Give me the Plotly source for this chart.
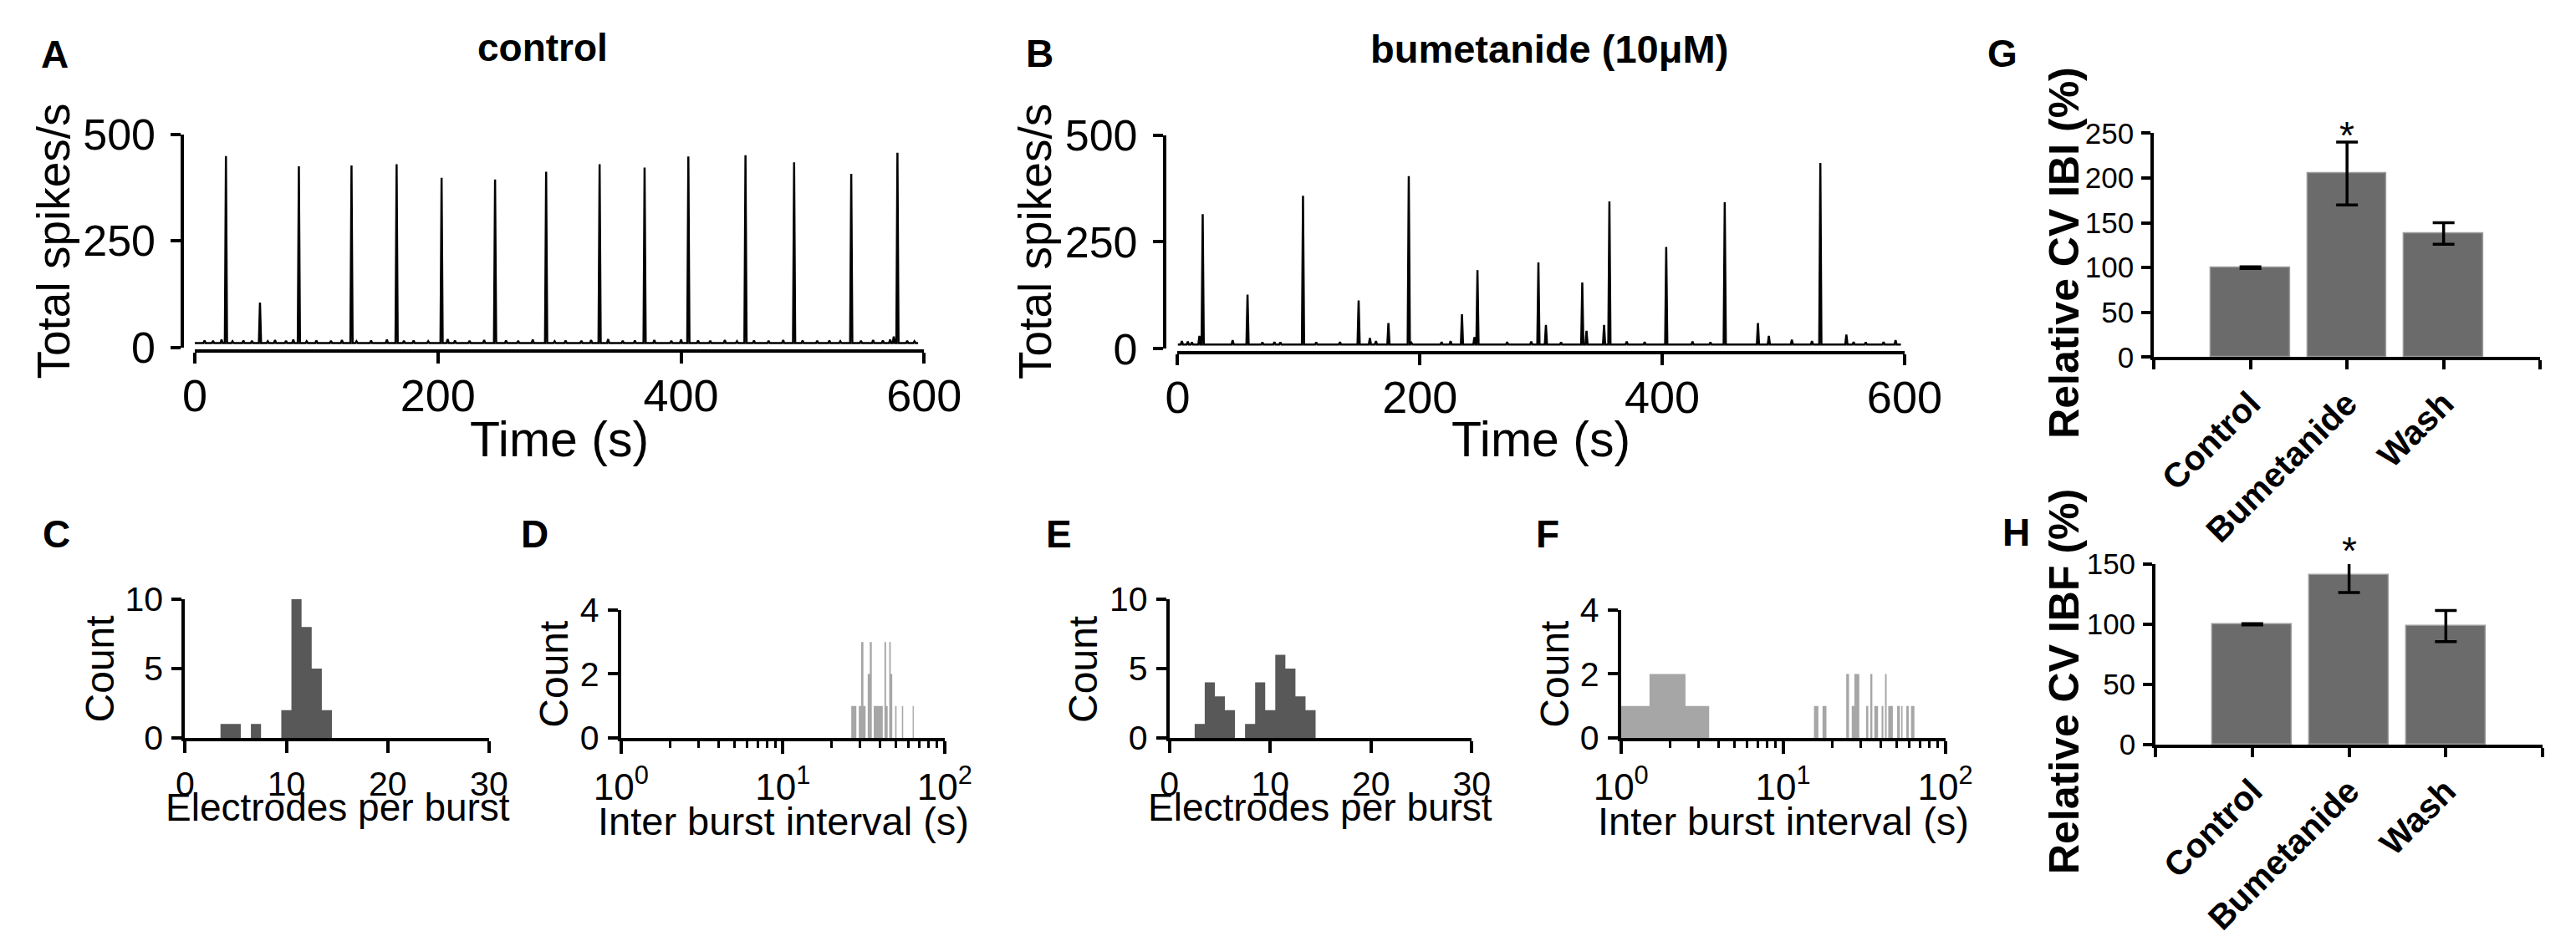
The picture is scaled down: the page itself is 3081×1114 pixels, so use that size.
import plotly.graph_objects as go

W, H = 3081, 1114
FONT = "Liberation Sans, Arial, Helvetica, sans-serif"

# ---- A: control, total spikes/s over time ----
ctrl_peak_t = [25.6, 53.6, 85.6, 128.9, 166, 203, 247, 289, 333, 370, 406, 453, 493, 540, 578]
ctrl_peak_v = [449, 105, 425, 427, 430, 398, 394, 412, 430, 422, 448, 451, 434, 407, 457]
ctrl_bump_t = [8, 15, 22, 31, 40, 47, 60, 66, 75, 81, 92, 100, 112, 121, 133, 145, 158, 172,
               180, 192, 208, 214, 226, 238, 256, 266, 278, 296, 305, 318, 326, 340, 352, 362,
               378, 392, 400, 414, 424, 436, 446, 460, 472, 484, 500, 512, 522, 531, 548, 558,
               566, 572, 575, 586, 592]
ctrl_bump_v = [16, 15, 18, 14, 16, 15, 14, 17, 15, 18, 14, 16, 15, 17, 14, 16, 18, 15,
               16, 14, 19, 16, 15, 17, 16, 15, 18, 14, 16, 15, 17, 19, 15, 16,
               17, 15, 18, 16, 15, 17, 14, 16, 15, 17, 16, 15, 16, 14, 15, 17,
               16, 18, 25, 15, 14]
ctrl_base = 10

# ---- B: bumetanide (10 uM) ----
bum_peak_t = [20.7, 57.7, 103.5, 149.4, 174, 190.8, 234.7, 247.5, 297.8, 304, 334, 337.5,
              352, 356.4, 403.3, 451.6, 479, 488, 507, 530.5, 552]
bum_peak_v = [315, 127, 358, 113, 60, 404, 81, 184, 202, 56, 155, 42,
              56, 345, 238, 343, 60, 30, 21, 435, 33]
bum_bump_t = [3.5, 8.4, 11.8, 18.0, 45.4, 70, 79.9, 84.8, 114.4, 134, 158.7, 163.7, 193,
              217.9, 225.3, 245, 272, 291.9, 316.5, 370.7, 385.5, 425, 439.8, 523.6, 558,
              568, 582.7, 592.6]
bum_bump_v = [18, 17, 15, 30, 20, 15, 16, 15, 15, 16, 25, 18, 14,
              16, 18, 27, 16, 17, 15, 17, 16, 17, 15, 18, 16,
              15, 16, 20]
bum_base = 10

# ---- C/E: electrodes per burst (bin centre, count) ----
c_bins = [4, 5, 7, 10, 11, 12, 13, 14]
c_counts = [1, 1, 1, 2, 10, 8, 5, 2]
e_bins = [3, 4, 5, 6, 8, 9, 10, 11, 12, 13, 14]
e_counts = [1, 4, 3, 2, 1, 4, 2, 6, 5, 3, 2]

# ---- D/F: inter burst interval in s (bin centre, count) ----
d_bins = [27, 28, 30, 31, 32, 34, 35, 37, 38, 39, 40, 41, 43, 44, 46, 47, 50, 55, 64]
d_counts = [1, 1, 1, 3, 1, 2, 3, 1, 1, 1, 1, 1, 3, 1, 3, 2, 1, 1, 1]
f_bins = [1, 2, 3, 16, 18, 25, 27, 28, 29, 33, 35, 37, 38, 41, 43, 45, 46, 47, 51, 52,
          54, 58, 59, 62, 63, 64]
f_counts = [1, 2, 1, 1, 1, 2, 1, 2, 2, 1, 2, 1, 1, 1, 2, 1, 1, 1, 1, 1,
            1, 1, 1, 1, 1, 1]

# ---- G/H: relative CV (%) ----
groups = ["Control", "Bumetanide", "Wash"]
cv_ibi = [100, 205, 138]
cv_ibi_err = [1, 35, 12]
cv_ibf = [100, 141, 98.5]
cv_ibf_err = [0.5, 14.6, 12.9]
signif = ["", "*", ""]


def px(x):
    return x / W


def py(y):
    return 1 - y / H


def spike_xy(pt, pv, bt, bv, base, t_end):
    ev = sorted(zip(pt + bt, pv + bv))
    xs, ys = [0.0], [base]
    for t, v in ev:
        xs += [t - 0.9, t, t + 0.9]
        ys += [base, v, base]
    xs.append(t_end)
    ys.append(base)
    return xs, ys


def step_xy(bins, counts):
    cnt = dict(zip(bins, counts))
    ks = list(range(min(bins), max(bins) + 1))
    xs = [k - 0.5 for k in ks] + [ks[-1] + 0.5]
    ys = [cnt.get(k, 0) for k in ks] + [0]
    return xs, ys


fig = go.Figure()

for (pt, pv, bt, bv, base, t_end), ax in [
        ((ctrl_peak_t, ctrl_peak_v, ctrl_bump_t, ctrl_bump_v, ctrl_base, 595), ""),
        ((bum_peak_t, bum_peak_v, bum_bump_t, bum_bump_v, bum_base, 597), "2")]:
    xs, ys = spike_xy(pt, pv, bt, bv, base, t_end)
    fig.add_trace(go.Scatter(x=xs, y=ys, mode="lines", line=dict(color="black", width=2.5),
                             xaxis="x" + ax, yaxis="y" + ax, hoverinfo="skip", showlegend=False))

for bins, counts, color, ax in [(c_bins, c_counts, "#585858", "3"),
                                (d_bins, d_counts, "#a6a6a6", "4"),
                                (e_bins, e_counts, "#585858", "5"),
                                (f_bins, f_counts, "#a6a6a6", "6")]:
    xs, ys = step_xy(bins, counts)
    fig.add_trace(go.Scatter(x=xs, y=ys, mode="lines", line=dict(width=0, shape="hv"),
                             fill="tozeroy", fillcolor=color, xaxis="x" + ax, yaxis="y" + ax,
                             hoverinfo="skip", showlegend=False))

for vals, errs, ax in [(cv_ibi, cv_ibi_err, "7"), (cv_ibf, cv_ibf_err, "8")]:
    fig.add_trace(go.Bar(x=[0, 1, 2], y=vals, width=0.82,
                         marker=dict(color="#6b6b6b", line=dict(color="#9c9c9c", width=1.5)),
                         error_y=dict(type="data", array=errs, color="black", thickness=3.5, width=13),
                         cliponaxis=False, xaxis="x" + ax, yaxis="y" + ax,
                         hoverinfo="skip", showlegend=False))

common = dict(showline=True, linecolor="black", linewidth=4, ticks="outside", tickcolor="black",
              tickwidth=4, showgrid=False, zeroline=False, fixedrange=True)


def tf(size):
    return dict(family=FONT, size=size, color="black")


minor_log = dict(tickvals=[2, 3, 4, 5, 6, 7, 8, 9, 20, 30, 40, 50, 60, 70, 80, 90],
                 ticks="outside", ticklen=8, tickwidth=3, tickcolor="black")
minor_ends = dict(tickvals=[-1, 3], ticks="outside", ticklen=11, tickwidth=4, tickcolor="black")
log_text = ["10<sup>0</sup>", "10<sup>1</sup>", "10<sup>2</sup>"]
cat_text = ["<b>%s</b>" % g for g in groups]

layout = dict(
    width=W, height=H, margin=dict(l=0, r=0, t=0, b=0), autosize=False,
    paper_bgcolor="white", plot_bgcolor="white", bargap=0,
    # A
    xaxis=dict(common, domain=[px(197), px(1092)], range=[0, 600], tickvals=[0, 200, 400, 600],
               ticklen=13, tickfont=tf(54), anchor="free", position=py(418), ticklabelstandoff=-8),
    yaxis=dict(common, domain=[py(413), py(135)], range=[0, 500], tickvals=[0, 250, 500],
               ticklen=12, tickfont=tf(52), anchor="free", position=px(182), ticklabelstandoff=8),
    # B
    xaxis2=dict(common, domain=[px(1403), px(2295)], range=[0, 600], tickvals=[0, 200, 400, 600],
                ticklen=13, tickfont=tf(54), anchor="free", position=py(420), ticklabelstandoff=-8),
    yaxis2=dict(common, domain=[py(415), py(136)], range=[0, 500], tickvals=[0, 250, 500],
                ticklen=12, tickfont=tf(52), anchor="free", position=px(1387), ticklabelstandoff=8),
    # C
    xaxis3=dict(common, domain=[px(185), px(558)], range=[0, 30], tickvals=[0, 10, 20, 30],
                ticklen=14, tickfont=tf(41), anchor="y3", ticklabelstandoff=2),
    yaxis3=dict(common, domain=[py(923), py(742)], range=[0, 10], tickvals=[0, 5, 10],
                ticklen=12, tickfont=tf(41), anchor="x3", ticklabelstandoff=2),
    # D
    xaxis4=dict(common, type="log", domain=[px(720), px(1117)], range=[0, 2],
                tickvals=[1, 10, 100], ticktext=log_text, ticklen=15, tickfont=tf(44),
                minor=minor_log, anchor="y4", ticklabelstandoff=2),
    yaxis4=dict(common, domain=[py(923), py(756)], range=[0, 4], tickvals=[0, 2, 4],
                ticklen=12, tickfont=tf(41), anchor="x4", ticklabelstandoff=2),
    # E
    xaxis5=dict(common, domain=[px(1393), px(1764)], range=[0, 30], tickvals=[0, 10, 20, 30],
                ticklen=14, tickfont=tf(41), anchor="y5", ticklabelstandoff=2),
    yaxis5=dict(common, domain=[py(923), py(742)], range=[0, 10], tickvals=[0, 5, 10],
                ticklen=12, tickfont=tf(41), anchor="x5", ticklabelstandoff=2),
    # F
    xaxis6=dict(common, type="log", domain=[px(1947), px(2345)], range=[0, 2],
                tickvals=[1, 10, 100], ticktext=log_text, ticklen=15, tickfont=tf(44),
                minor=minor_log, anchor="y6", ticklabelstandoff=2),
    yaxis6=dict(common, domain=[py(923), py(756)], range=[0, 4], tickvals=[0, 2, 4],
                ticklen=12, tickfont=tf(41), anchor="x6", ticklabelstandoff=2),
    # G
    xaxis7=dict(common, domain=[px(2601), px(3075)], range=[-1, 3], tickvals=[0, 1, 2],
                ticktext=cat_text, tickangle=-45, ticklen=11, tickfont=tf(41),
                minor=minor_ends, anchor="y7"),
    yaxis7=dict(common, domain=[py(426), py(133.5)], range=[0, 250],
                tickvals=[0, 50, 100, 150, 200, 250], ticklen=11, tickfont=tf(35), anchor="x7",
                ticklabelstandoff=2),
    # H
    xaxis8=dict(common, domain=[px(2603), px(3078)], range=[-1, 3], tickvals=[0, 1, 2],
                ticktext=cat_text, tickangle=-45, ticklen=11, tickfont=tf(41),
                minor=minor_ends, anchor="y8"),
    yaxis8=dict(common, domain=[py(932), py(696)], range=[0, 150],
                tickvals=[0, 50, 100, 150], ticklen=11, tickfont=tf(35), anchor="x8",
                ticklabelstandoff=2),
)
fig.update_layout(**layout)


def note(text, x, y, size, bold=False, angle=0):
    return dict(text="<b>%s</b>" % text if bold else text, x=px(x), y=py(y),
                xref="paper", yref="paper", showarrow=False, font=tf(size),
                textangle=angle, xanchor="center", yanchor="middle")


notes = [
    note("A", 25, 31, 46, True), note("B", 1234, 30, 46, True),
    note("C", 27, 657, 46, True), note("D", 614, 657, 46, True),
    note("E", 1257, 657, 46, True), note("F", 1857, 657, 46, True),
    note("G", 2415, 29, 46, True), note("H", 2432, 655, 46, True),
    note("control", 624, 22, 46, True), note("bumetanide (10μM)", 1859, 24, 47, True),
    note("Total spikes/s", 24, 274, 55, angle=-90), note("Total spikes/s", 1228, 275, 55, angle=-90),
    note("Time (s)", 644, 534, 59), note("Time (s)", 1849, 534, 59),
    note("Count", 80, 833, 48, angle=-90), note("Count", 638, 840, 48, angle=-90),
    note("Count", 1287, 833, 48, angle=-90), note("Count", 1866, 840, 48, angle=-90),
    note("Electrodes per burst", 372, 1014, 46), note("Electrodes per burst", 1578, 1014, 46),
    note("Inter burst interval (s)", 919, 1032, 47), note("Inter burst interval (s)", 2146, 1032, 47),
    note("Relative CV IBI (%)", 2491, 289, 50, True, -90),
    note("Relative CV IBF (%)", 2491, 849, 50, True, -90),
]
for vals, errs, ax, top in [(cv_ibi, cv_ibi_err, "7", 250), (cv_ibf, cv_ibf_err, "8", 150)]:
    for i, s in enumerate(signif):
        if s:
            notes.append(dict(text=s, x=i, y=(vals[i] + errs[i]) / top, xref="x" + ax,
                              yref="y%s domain" % ax, showarrow=False, font=tf(46),
                              yanchor="middle", yshift=8))
fig.update_layout(annotations=notes)

fig.write_html("out.html")
